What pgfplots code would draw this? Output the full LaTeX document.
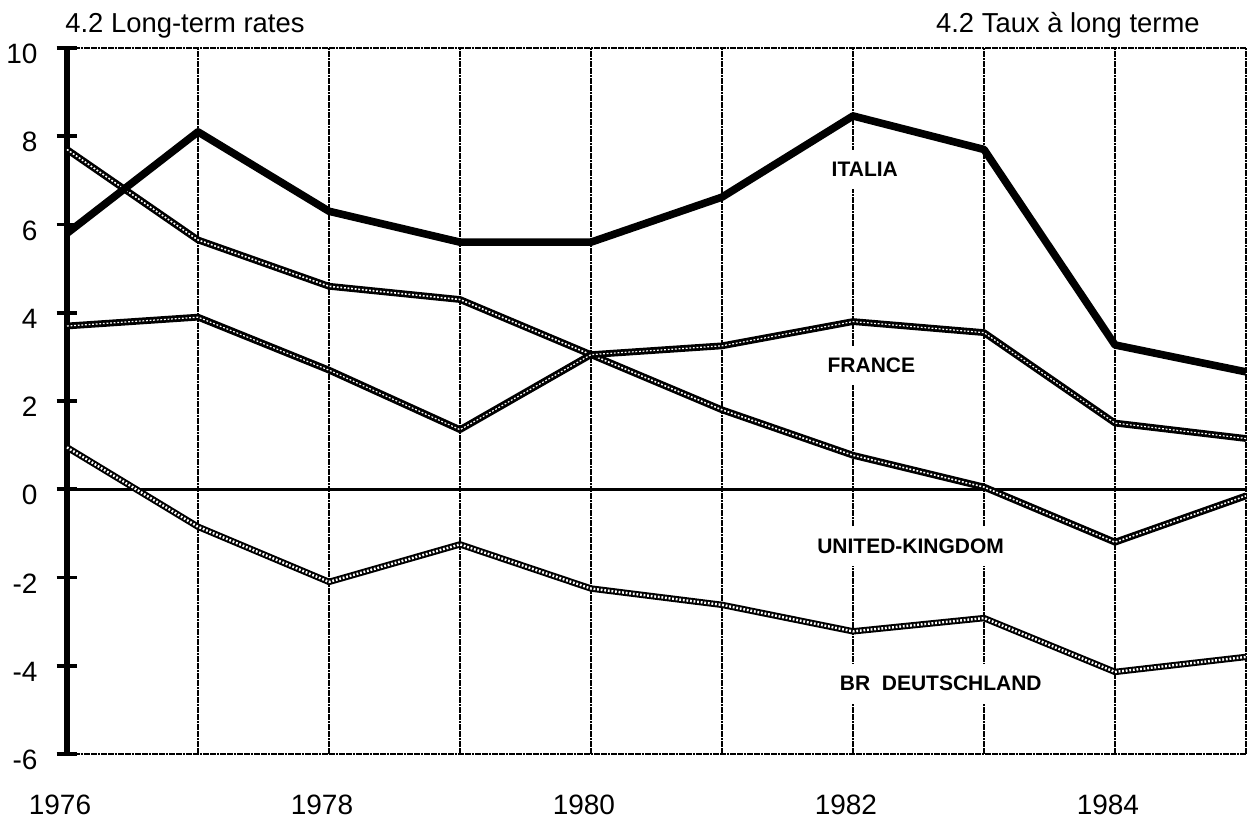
\documentclass[border=0pt]{standalone}
\usepackage{fontspec}
\setmainfont{Liberation Sans}
\usepackage{pgfplots}
\usepackage{pgfplotstable}
\pgfplotsset{compat=1.18}

% long-term rates, per cent
\pgfplotstableread{
year italia france uk germany
1976 5.8 3.7 7.7 0.95
1977 8.1 3.9 5.65 -0.85
1978 6.3 2.7 4.6 -2.1
1979 5.6 1.35 4.3 -1.25
1980 5.6 3.05 3.05 -2.25
1981 6.62 3.25 1.8 -2.62
1982 8.46 3.8 0.77 -3.22
1983 7.7 3.55 0.05 -2.92
1984 3.27 1.5 -1.2 -4.14
1985 2.66 1.15 -0.15 -3.8
}\rates

\tikzset{
  gridline/.style={black, line width=1.2pt, dash pattern=on 1.4pt off 0.3pt},
  hatch/.style args={#1/#2}{black, line width=#1, line join=round,
    postaction={draw=white, line width=#2, dash pattern=on 0.9pt off 0.9pt}},
  lbl/.style={fill=white, inner xsep=2pt, inner ysep=6pt,
    font=\bfseries\fontsize{10.5}{12}\selectfont},
}

\begin{document}
\begin{tikzpicture}
\begin{axis}[
  scale only axis,
  width=589.5pt, height=353pt,
  xmin=1976, xmax=1985, ymin=-6, ymax=10,
  axis x line*=box, axis y line*=left,
  x axis line style={gridline},
  y axis line style={black, line width=2.8pt},
  xtick={1976,...,1985},
  xticklabels={1976,,1978,,1980,,1982,,1984,},
  xtick style={draw=none},
  xmajorgrids, x grid style={gridline},
  ytick={-6,-4,...,10},
  yticklabels={-6,-4,-2,0,2,4,6,8,10},
  tick align=center, major tick length=10.5pt,
  ytick style={black, line width=1.8pt},
  extra y ticks={0}, extra y tick labels={},
  extra y tick style={ymajorgrids=true, major tick length=0pt,
    major grid style={black, line width=1.6pt}},
  ticklabel style={font=\fontsize{14}{16}\selectfont},
  xticklabel style={anchor=base, xshift=-3.5pt, yshift=-25pt},
  yticklabel style={anchor=east, xshift=-6pt, yshift=-3pt},
  clip=false,
]
\coordinate (sw) at (rel axis cs:0,0);
\coordinate (ne) at (rel axis cs:1,1);

\addplot[hatch=3.2pt/1.2pt] table[x=year, y=germany]{\rates};
\addplot[hatch=3.4pt/0.8pt] table[x=year, y=uk]{\rates};
\addplot[hatch=3.4pt/0.6pt] table[x=year, y=france]{\rates};
\addplot[black, line width=3.8pt, line join=round] table[x=year, y=italia]{\rates};

\node[lbl] at (axis cs:1982.09,7.25) {ITALIA};
\node[lbl] at (axis cs:1982.14,2.8) {FRANCE};
\node[lbl] at (axis cs:1982.44,-1.3) {UNITED-KINGDOM};
\node[lbl] at (axis cs:1982.67,-4.4) {BR\ \ DEUTSCHLAND};

\node[anchor=base west, inner sep=0pt, font=\fontsize{13.7}{15}\selectfont]
  at ([shift={(-1pt,7.5pt)}]rel axis cs:0,1) {4.2 Long-term rates};
\node[anchor=base east, inner sep=0pt, font=\fontsize{13.7}{15}\selectfont]
  at ([shift={(-23pt,7.5pt)}]rel axis cs:1,1) {4.2 Taux à long terme};
\end{axis}
\pgfresetboundingbox
\path ([shift={(-33.5pt,-33pt)}]sw) rectangle ([shift={(1pt,24pt)}]ne);
\end{tikzpicture}
\end{document}
